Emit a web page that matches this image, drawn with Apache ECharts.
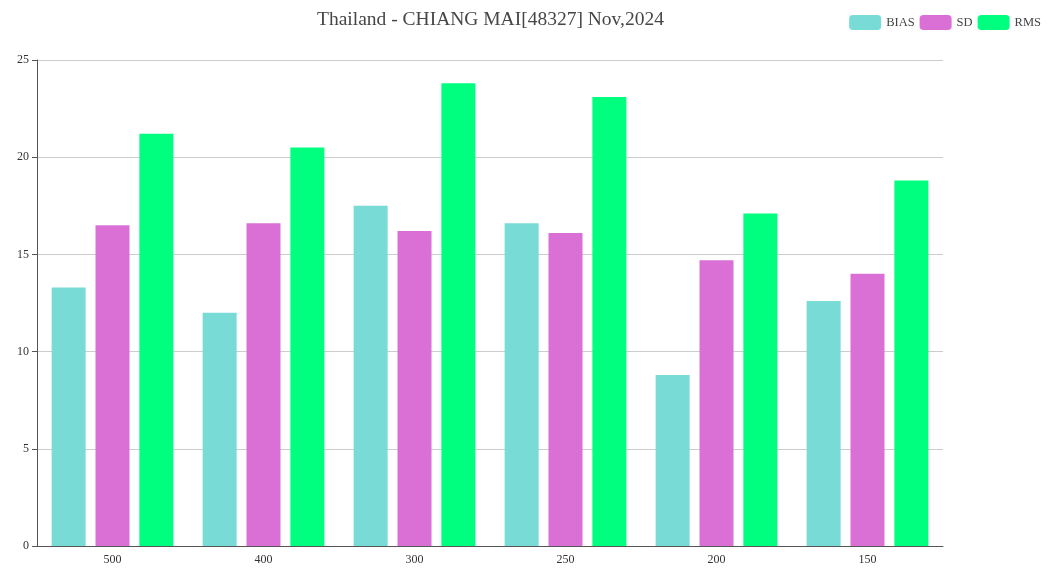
<!DOCTYPE html>
<html><head><meta charset="utf-8">
<script src="https://cdn.jsdelivr.net/npm/echarts@6/dist/echarts.min.js"></script>
<style>html,body{margin:0;padding:0;background:#fff}#c{width:1049px;height:573px}</style>
</head><body><div id="c"></div>
<script>
const categories = ['500','400','300','250','200','150'];
const bias = [13.3, 12.0, 17.5, 16.6, 8.8, 12.6];
const sd = [16.5, 16.6, 16.2, 16.1, 14.7, 14.0];
const rms = [21.2, 20.5, 23.8, 23.1, 17.1, 18.8];
const seriesNames = ['BIAS','SD','RMS'];
const colors = ['#78dbd5','#da70d6','#00ff7f'];
const font = '"Liberation Serif","DejaVu Serif",serif';
const chart = echarts.init(document.getElementById('c'));
chart.setOption({
  animation: false,
  color: colors,
  title: {text: 'Thailand - CHIANG MAI[48327] Nov,2024', left: 312, top: 5,
    textStyle: {fontFamily: font, fontSize: 19.5, fontWeight: 'normal', color: '#464646'}},
  legend: {data: seriesNames, right: 3, top: 10, itemWidth: 32, itemHeight: 15, itemGap: 5,
    textStyle: {fontFamily: font, fontSize: 12.5, color: '#444'}},
  grid: {left: 37, right: 106, top: 60, bottom: 27, containLabel: false},
  xAxis: {type: 'category', data: categories,
    axisLine: {lineStyle: {color: '#555'}}, axisTick: {length: 5, lineStyle: {color: '#555'}},
    axisLabel: {fontFamily: font, fontSize: 12, color: '#333', margin: 8}},
  yAxis: {type: 'value', min: 0, max: 25, interval: 5,
    axisLine: {show: true, lineStyle: {color: '#555'}}, axisTick: {show: true, length: 5, lineStyle: {color: '#555'}},
    axisLabel: {fontFamily: font, fontSize: 12, color: '#333', margin: 8},
    splitLine: {lineStyle: {color: '#ccc'}}},
  series: [
    {name: seriesNames[0], type: 'bar', data: bias, barWidth: 34, barGap: '29%'},
    {name: seriesNames[1], type: 'bar', data: sd, barWidth: 34, barGap: '29%'},
    {name: seriesNames[2], type: 'bar', data: rms, barWidth: 34, barGap: '29%'}
  ]
});
</script></body></html>
